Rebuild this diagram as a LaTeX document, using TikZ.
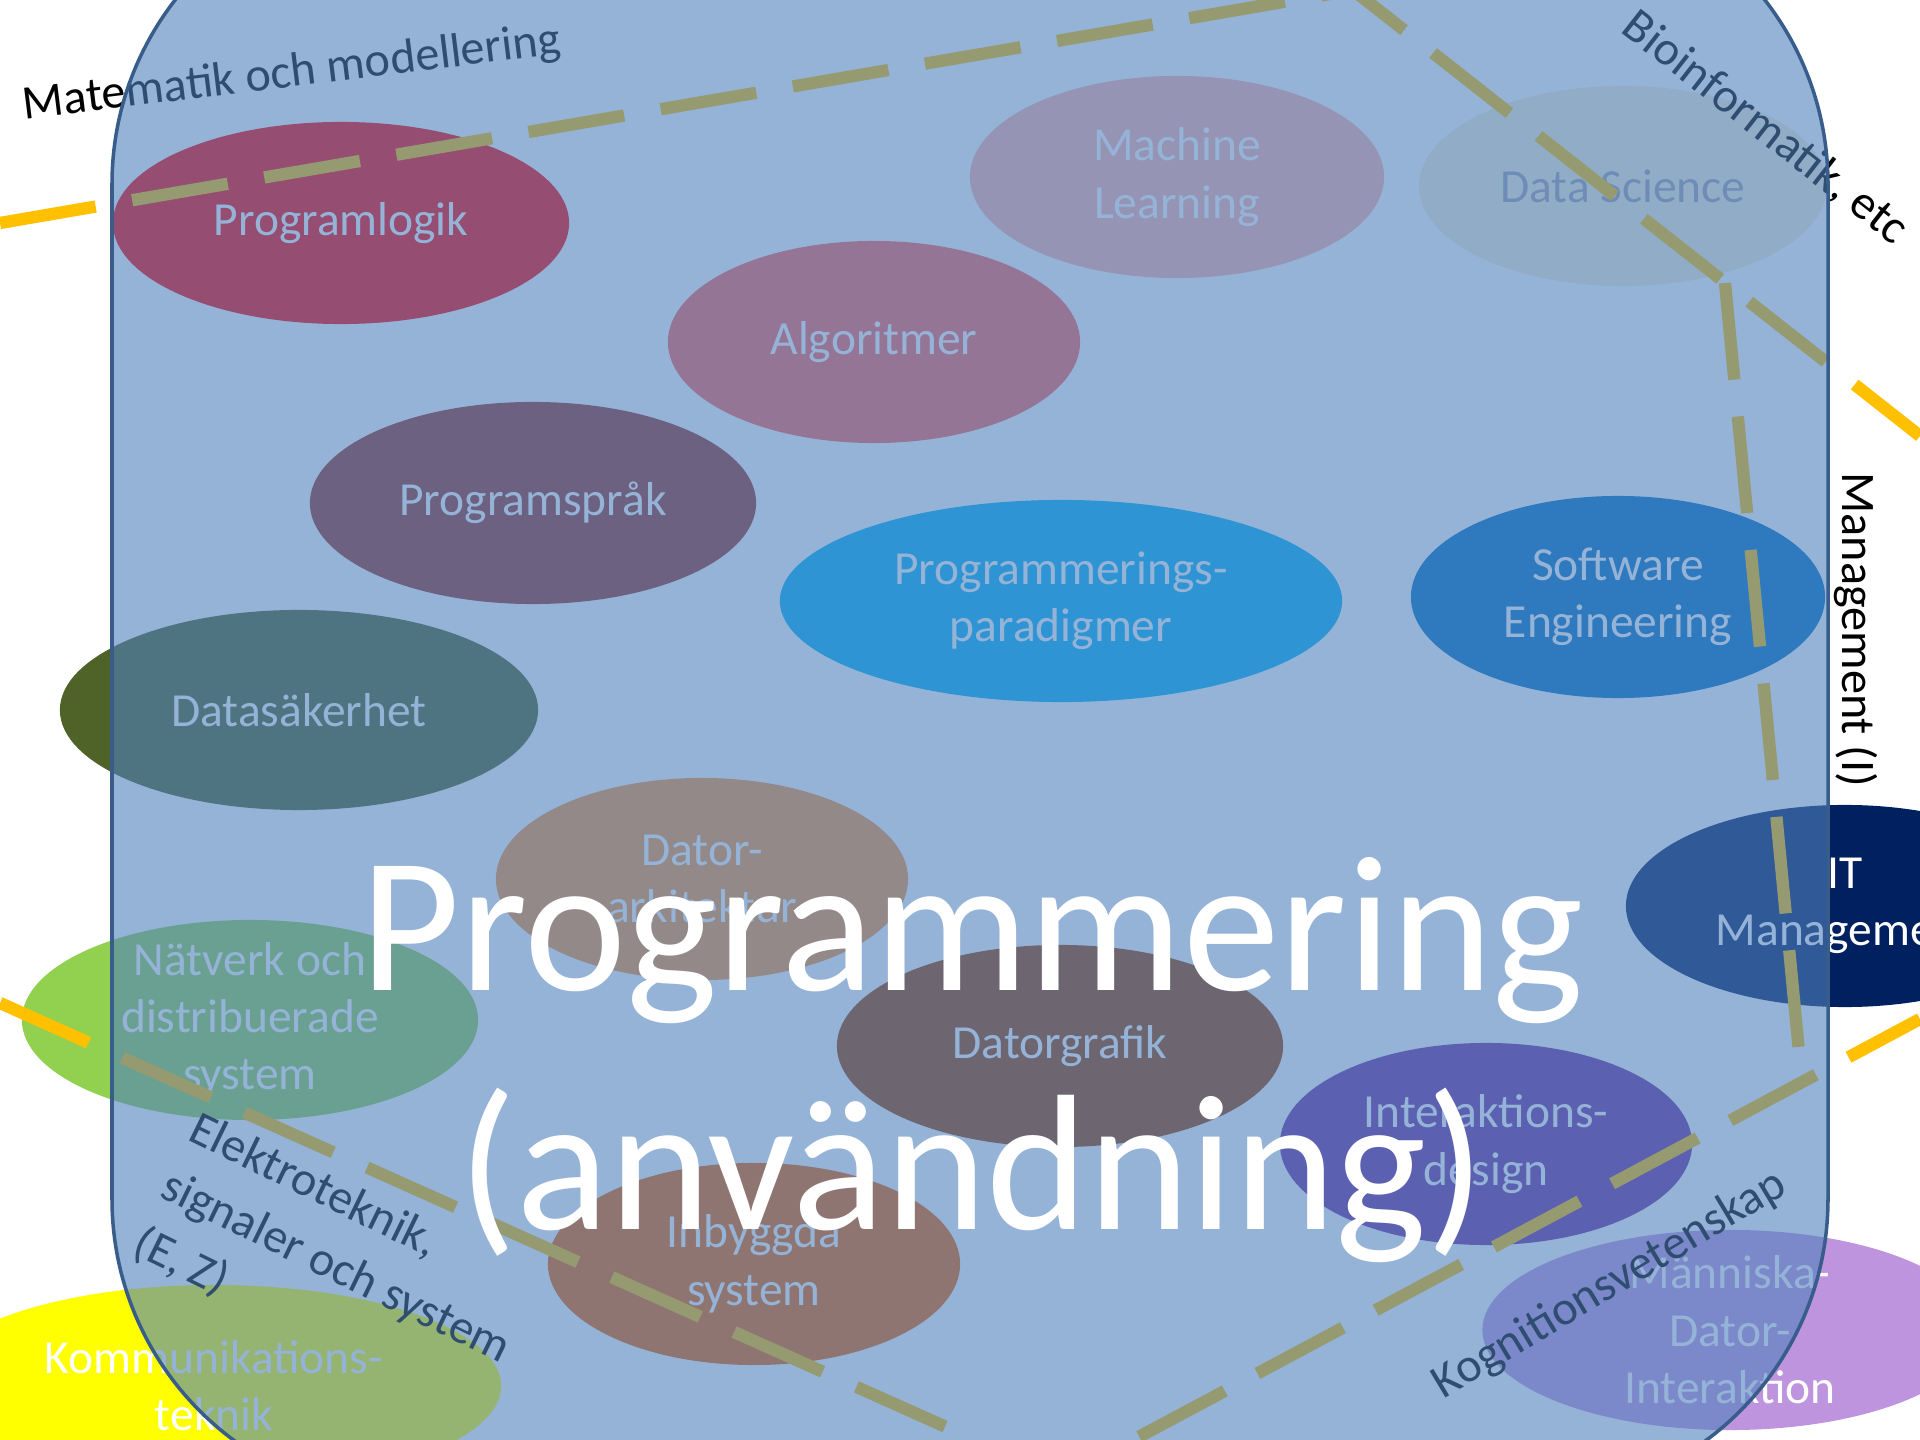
\documentclass[tikz,border=0pt]{standalone}
\usepackage{fontspec}
\setmainfont{Carlito}
\usetikzlibrary{shapes.geometric}
\definecolor{ramblue}{RGB}{79,129,189}
\definecolor{ramkant}{RGB}{56,93,138}
\definecolor{gransgul}{RGB}{255,192,0}
\definecolor{logikrod}{RGB}{255,0,0}
\definecolor{algorosa}{RGB}{255,100,92}
\definecolor{maskinrosa}{RGB}{255,177,167}
\definecolor{dsljus}{RGB}{246,238,216}
\definecolor{dstext}{RGB}{160,158,172}
\definecolor{sprakbrun}{RGB}{152,50,38}
\definecolor{paradigmbla}{RGB}{0,178,244}
\definecolor{softbla}{RGB}{0,112,192}
\definecolor{sakoliv}{RGB}{79,98,40}
\definecolor{arkorange}{RGB}{252,150,60}
\definecolor{natgron}{RGB}{146,208,80}
\definecolor{itnavy}{RGB}{0,32,96}
\definecolor{grafikbrun}{RGB}{155,62,0}
\definecolor{intlila}{RGB}{112,48,160}
\definecolor{inborange}{RGB}{240,100,0}
\definecolor{kommgul}{RGB}{255,255,0}
\definecolor{mdilila}{RGB}{190,148,222}

\begin{document}
\begin{tikzpicture}[x=0.01cm, y=-0.01cm,
	emne/.style={ellipse, inner sep=-2mm, text=white, align=center,
		font=\fontsize{13.5}{16.3}\selectfont},
	etikett/.style={inner sep=0pt, font=\fontsize{13.7}{18}\selectfont},
	grans/.style={line width=3.5pt, draw=gransgul, dash pattern=on 0.97cm off 0.37cm},
	stor/.style={text=white, align=center, font=\fontsize{55}{68}\selectfont}]
	\useasboundingbox (0,0) rectangle (1920,1440);
	\clip (0,0) rectangle (1920,1440);
	
	\node[emne, fill=logikrod, minimum width=4.56cm, minimum height=2.02cm] (plogik) at (341,223) {Programlogik};
	\node[emne, fill=maskinrosa, minimum width=4.14cm, minimum height=2.02cm] (maskin) at (1177,177) {Machine\\Learning};
	\node[emne, fill=dsljus, text=dstext, minimum width=4.08cm, minimum height=2.0cm] (datavet) at (1623,186) {Data Science};
	\node[emne, fill=algorosa, minimum width=4.12cm, minimum height=2.02cm] (algo) at (874,342) {Algoritmer};
	\node[emne, fill=sprakbrun, minimum width=4.46cm, minimum height=2.02cm] (sprak) at (533,503) {Programspråk};
	\node[emne, fill=paradigmbla, minimum width=5.62cm, minimum height=2.02cm] (paradigm) at (1061,601) {Programmerings-\\paradigmer};
	\node[emne, fill=softbla, minimum width=4.14cm, minimum height=2.02cm] (softeng) at (1618,597) {Software\\Engineering};
	\node[emne, fill=sakoliv, minimum width=4.78cm, minimum height=2.0cm] (sakerhet) at (299,710) {Datasäkerhet};
	\node[emne, fill=arkorange, minimum width=4.12cm, minimum height=2.02cm] (arkitektur) at (702,879) {Dator-\\arkitektur};
	\node[emne, fill=natgron, minimum width=4.56cm, minimum height=2.0cm] (natverk) at (250,1020) {Nätverk och\\distribuerade\\system};
	\node[emne, fill=itnavy, minimum width=4.38cm, minimum height=2.02cm] (itman) at (1845,906) {IT\\Management};
	\node[emne, fill=grafikbrun, minimum width=4.46cm, minimum height=2.02cm] (grafik) at (1060,1046) {Datorgrafik};
	\node[emne, fill=intlila, minimum width=4.12cm, minimum height=2.02cm] (interaktion) at (1486,1144) {Interaktions-\\design};
	\node[emne, fill=inborange, minimum width=4.12cm, minimum height=2.02cm] (inbyggda) at (754,1264) {Inbyggda\\system};
	\node[emne, fill=kommgul, minimum width=5.74cm, minimum height=2.02cm] (komm) at (214,1386) {Kommunikations-\\teknik};
	\node[emne, fill=mdilila, minimum width=4.95cm, minimum height=2.0cm] (mdi) at (1730,1330) {Människa-\\Dator-\\Interaktion};
	
	\coordinate (m1) at (0,223);
	\coordinate (topp) at (1353,-10);
	\coordinate (b2) at (1920,436);
	\coordinate (v1) at (1725,283);
	\coordinate (v2) at (1802,1083);
	\coordinate (k1) at (1920,1019);
	\coordinate (k2) at (1133,1440);
	\coordinate (e1) at (0,1003);
	\coordinate (e2) at (975,1440);
	
	\draw[grans] (m1) -- (topp) -- (b2);
	\draw[grans] (v1) -- (v2);
	\draw[grans, dash phase=0.16cm] (k1) -- (k2);
	\draw[grans] (e1) -- (e2);
	
	\node[etikett, rotate=7] (matte) at (292,74) {Matematik och modellering};
	\node[etikett, rotate=-38] (bio) at (1765,128) {Bioinformatik, etc};
	\node[etikett, rotate=-90] (mgmt) at (1856,630) {Management (I)};
	\node[etikett, rotate=-26, align=left] (elektro) at (336,1268) {Elektroteknik,\\signaler och system\\(E, Z)};
	\node[etikett, rotate=31] (kogn) at (1610,1285) {Kognitionsvetenskap};
	
	\draw[fill=ramblue, fill opacity=0.6, draw=ramkant, line width=1pt, rounded corners=3cm] (112,-116) rectangle (1828,1499);
	
	\node[stor] (titel) at (972,1060) {Programmering\\(användning)};
\end{tikzpicture}
\end{document}
